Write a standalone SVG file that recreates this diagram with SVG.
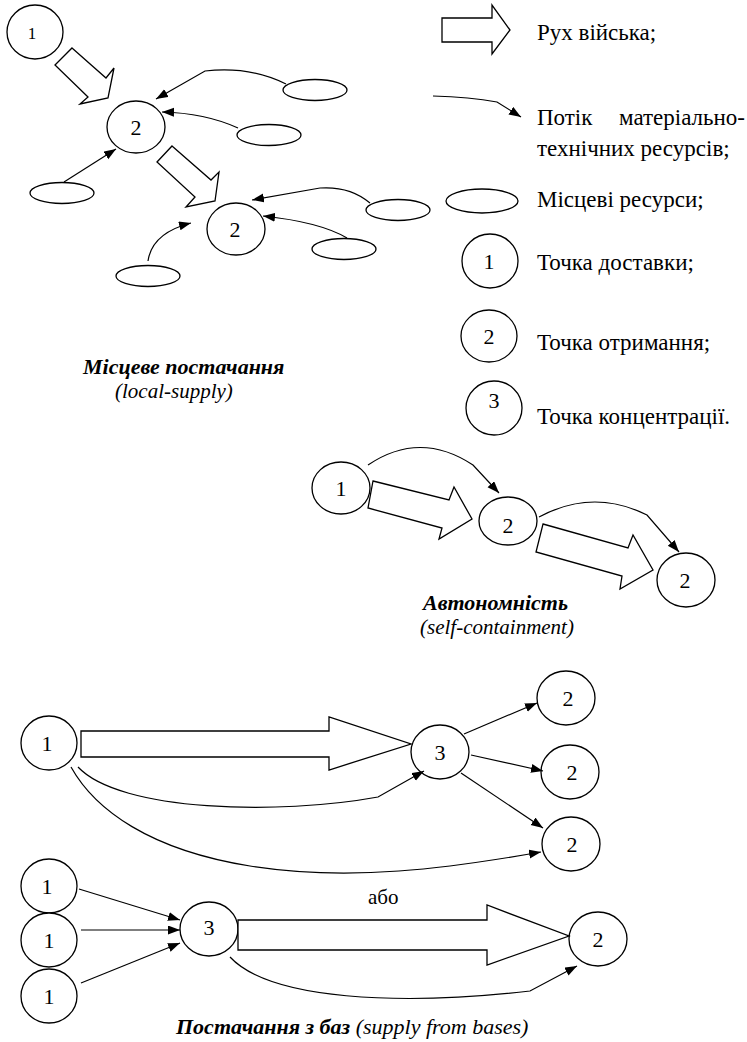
<svg xmlns="http://www.w3.org/2000/svg" width="747" height="1042" viewBox="0 0 747 1042">
<style>
.n{fill:#fff;stroke:#000;stroke-width:1.3}
.big{fill:#fff;stroke:#000;stroke-width:1.3;stroke-linejoin:miter}
.c{fill:none;stroke:#000;stroke-width:1.2;marker-end:url(#ah)}
text{font-family:'Liberation Serif','DejaVu Serif',serif;fill:#000}
.d{font-size:22px;text-anchor:middle}
.l{font-size:23px}
.t{font-size:22px;font-weight:bold;font-style:italic}
.i{font-size:21px;font-style:italic}
</style>
<defs>
<marker id="ah" markerUnits="userSpaceOnUse" markerWidth="13" markerHeight="10" refX="12" refY="4.5" orient="auto">
<path d="M0,0 L12,4.5 L0,9 z" fill="#000"/>
</marker>
</defs>
<rect width="747" height="1042" fill="#fff"/>

<!-- Local supply section -->
<g id="ls-n1"><ellipse class="n" cx="35" cy="32" rx="28" ry="27"/><text class="d" x="32" y="39" font-family="Liberation Serif" style="font-size:17px">1</text></g>
<g id="ls-n2a"><ellipse class="n" cx="136" cy="127" rx="29" ry="26"/><text class="d" x="136" y="135" font-family="Liberation Serif">2</text></g>
<g id="ls-n2b"><ellipse class="n" cx="236" cy="229" rx="29" ry="26"/><text class="d" x="235" y="237" font-family="Liberation Serif">2</text></g>
<g id="ls-e1"><ellipse class="n" cx="315" cy="90" rx="32" ry="10.5"/></g>
<g id="ls-e2"><ellipse class="n" cx="269" cy="135" rx="32" ry="10.5"/></g>
<g id="ls-e3"><ellipse class="n" cx="62" cy="193" rx="32" ry="10.5"/></g>
<g id="ls-e4"><ellipse class="n" cx="398" cy="210" rx="32" ry="10.5"/></g>
<g id="ls-e5"><ellipse class="n" cx="344" cy="249" rx="32" ry="10.5"/></g>
<g id="ls-e6"><ellipse class="n" cx="148" cy="276" rx="32" ry="10.5"/></g>

<!-- Legend -->
<g id="lg-arrow"><polygon class="big" points="442,18 492,18 492,5 510,30 492,54 492,42 442,42"/><text class="l" x="537" y="40" font-family="Liberation Serif">Рух війська;</text></g>
<g id="lg-flow"><text class="l" x="537" y="125" font-family="Liberation Serif">Потік</text><text class="l" x="745" y="125" text-anchor="end" font-family="Liberation Serif">матеріально-</text><text class="l" x="537" y="156" font-family="Liberation Serif">технічних ресурсів;</text></g>
<g id="lg-res"><ellipse class="n" cx="482" cy="201" rx="36" ry="12"/><text class="l" x="537" y="207" font-family="Liberation Serif">Місцеві ресурси;</text></g>
<g id="lg-1"><ellipse class="n" cx="490" cy="261" rx="28" ry="27"/><text class="d" x="489" y="269" font-family="Liberation Serif">1</text><text class="l" x="537" y="270" font-family="Liberation Serif">Точка доставки;</text></g>
<g id="lg-2"><ellipse class="n" cx="489" cy="336" rx="28" ry="26"/><text class="d" x="489" y="344" font-family="Liberation Serif">2</text><text class="l" x="537" y="350" font-family="Liberation Serif">Точка отримання;</text></g>
<g id="lg-3"><ellipse class="n" cx="494" cy="408" rx="28" ry="27"/><text class="d" x="494" y="408" font-family="Liberation Serif">3</text><text class="l" x="537" y="424" font-family="Liberation Serif">Точка концентрації.</text></g>

<!-- Titles -->
<text class="t" x="83" y="374" font-family="Liberation Serif">Місцеве постачання</text>
<text class="i" x="115" y="398" font-family="Liberation Serif">(local-supply)</text>
<text class="t" x="423" y="610" font-family="Liberation Serif">Автономність</text>
<text class="i" x="420" y="634" font-family="Liberation Serif">(self-containment)</text>
<text x="176" y="1034" font-family="Liberation Serif" style="font-size:22px"><tspan font-weight="bold" font-style="italic">Постачання з баз</tspan><tspan font-style="italic"> (supply from bases)</tspan></text>
<text x="368" y="904" font-family="Liberation Serif" style="font-size:21px">або</text>

<!-- Autonomy section -->
<g id="au-n1"><ellipse class="n" cx="341" cy="488" rx="29" ry="26"/><text class="d" x="341" y="496" font-family="Liberation Serif">1</text></g>
<g id="au-n2a"><ellipse class="n" cx="508" cy="521" rx="29" ry="24"/><text class="d" x="508" y="533" font-family="Liberation Serif">2</text></g>
<g id="au-n2b"><ellipse class="n" cx="686" cy="580" rx="29" ry="27"/><text class="d" x="685" y="588" font-family="Liberation Serif">2</text></g>

<!-- Bases section -->
<g id="bs-n1"><ellipse class="n" cx="49" cy="743" rx="28" ry="27"/><text class="d" x="47" y="751" font-family="Liberation Serif">1</text></g>
<g id="bs-n3"><ellipse class="n" cx="440" cy="752" rx="29" ry="27"/><text class="d" x="440" y="760" font-family="Liberation Serif">3</text></g>
<g id="bs-n2a"><ellipse class="n" cx="566" cy="698" rx="29" ry="27"/><text class="d" x="568" y="706" font-family="Liberation Serif">2</text></g>
<g id="bs-n2b"><ellipse class="n" cx="570" cy="772" rx="29" ry="27"/><text class="d" x="572" y="780" font-family="Liberation Serif">2</text></g>
<g id="bs-n2c"><ellipse class="n" cx="571" cy="844" rx="29" ry="27"/><text class="d" x="572" y="852" font-family="Liberation Serif">2</text></g>
<g id="bs-n1a"><ellipse class="n" cx="49" cy="886" rx="28" ry="27"/><text class="d" x="47" y="894" font-family="Liberation Serif">1</text></g>
<g id="bs-n1b"><ellipse class="n" cx="49" cy="940" rx="28" ry="27"/><text class="d" x="49" y="948" font-family="Liberation Serif">1</text></g>
<g id="bs-n1c"><ellipse class="n" cx="49" cy="996" rx="28" ry="27"/><text class="d" x="49" y="1004" font-family="Liberation Serif">1</text></g>
<g id="bs-n3b"><ellipse class="n" cx="209" cy="929" rx="29" ry="27"/><text class="d" x="209" y="935" font-family="Liberation Serif">3</text></g>
<g id="bs-n2d"><ellipse class="n" cx="598" cy="939" rx="29" ry="27"/><text class="d" x="598" y="947" font-family="Liberation Serif">2</text></g>

<!-- Connectors -->
<g id="connectors">
<polygon class="big" points="72,48 106,78 114,68 108,98 80,104 88,97 55,65"/>
<polygon class="big" points="172,146 211,180 219,172 215,201 186,207 195,197 157,162"/>
<path class="c" d="M286,84 Q250,66 205,71 L156,99"/>
<path class="c" d="M238,128 Q205,113 162,112"/>
<path class="c" d="M64,182 L116,149"/>
<path class="c" d="M370,203 Q350,186 320,188 L252,200"/>
<path class="c" d="M347,238 Q320,222 263,216"/>
<path class="c" d="M148,261 Q152,233 191,223"/>
<path class="c" d="M433,96 Q470,97 497,102 L521,117"/>

<polygon class="big" points="373,481 449,500 454,487 472,519 439,539 442,528 368,508"/>
<polygon class="big" points="543,524 628,548 633,535 653,570 620,589 622,576 536,552"/>
<path class="c" d="M368,465 Q420,430 473,465 L499,493"/>
<path class="c" d="M539,517 Q593,488 647,515 L679,552"/>

<polygon class="big" points="81,731 329,731 329,717 411,744 329,770 329,757 81,757"/>
<path class="c" d="M78,767 C120,812 280,815 378,797 L424,771"/>
<path class="c" d="M71,767 C95,810 150,850 250,866 S450,868 541,852"/>
<path class="c" d="M464,734 L537,703"/>
<path class="c" d="M471,755 L543,771"/>
<path class="c" d="M461,773 L543,828"/>

<path class="c" d="M79,889 L180,920"/>
<path class="c" d="M81,930 L180,930"/>
<path class="c" d="M81,983 L180,943"/>
<polygon class="big" points="238,920 487,920 487,905 569,936 487,965 487,950 238,950"/>
<path class="c" d="M230,957 C270,1000 400,1006 530,991 L577,966"/>
</g>
</svg>
